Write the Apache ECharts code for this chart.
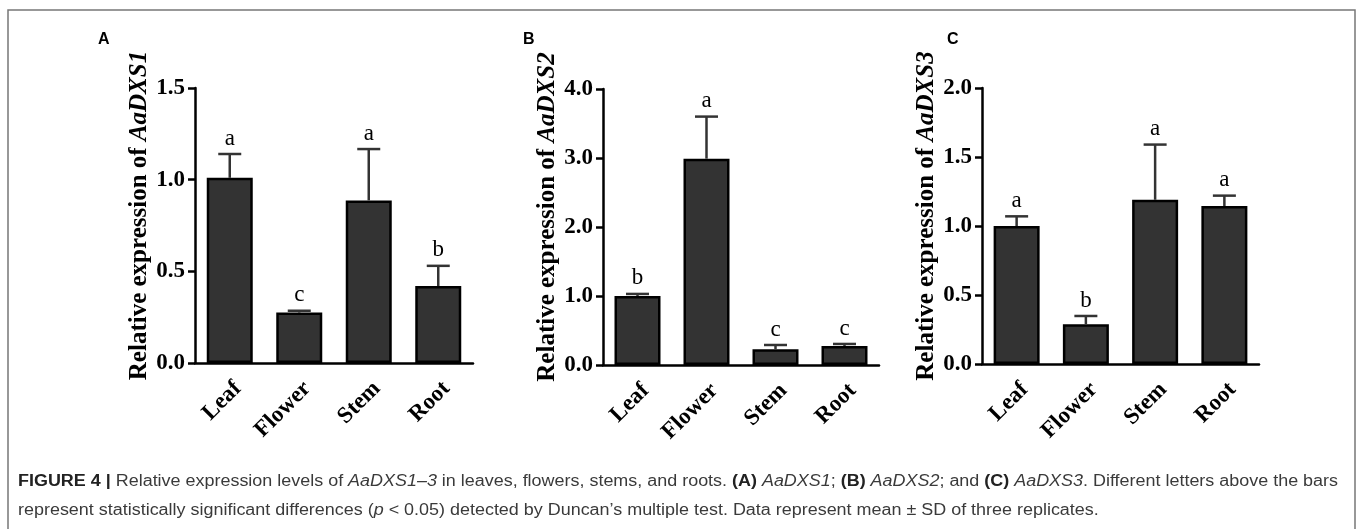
<!DOCTYPE html>
<html><head><meta charset="utf-8">
<script src="https://cdn.jsdelivr.net/npm/echarts@6/dist/echarts.min.js"></script>
<style>html,body{margin:0;padding:0;background:#fff}#c{width:1357px;height:529px}</style>
</head><body><div id="c"></div>
<script>
const categories = ['Leaf', 'Flower', 'Stem', 'Root'];
const meanA = [1.01, 0.275, 0.887, 0.42];
const sdA = [0.13, 0.01, 0.28, 0.11];
const lettersA = ['a', 'c', 'a', 'b'];
const meanB = [1.00, 2.99, 0.23, 0.275];
const sdB = [0.03, 0.61, 0.06, 0.03];
const lettersB = ['b', 'a', 'c', 'c'];
const meanC = [1.00, 0.288, 1.19, 1.145];
const sdC = [0.07, 0.06, 0.40, 0.075];
const lettersC = ['a', 'b', 'a', 'a'];
const genes = ['AaDXS1', 'AaDXS2', 'AaDXS3'];
const panelLabels = ['A', 'B', 'C'];
const yMax = [1.5, 4.0, 2.0];
const yInterval = [0.5, 1.0, 0.5];
const captionLine1 = '{b|FIGURE 4 |} Relative expression levels of {i|AaDXS1–3} in leaves, flowers, stems, and roots. {b|(A)} {i|AaDXS1}; {b|(B)} {i|AaDXS2}; and {b|(C)} {i|AaDXS3}. Different letters above the bars';
const captionLine2 = 'represent statistically significant differences ({i|p} < 0.05) detected by Duncan’s multiple test. Data represent mean ± SD of three replicates.';

const means = [meanA, meanB, meanC];
const sds = [sdA, sdB, sdC];
const letters = [lettersA, lettersB, lettersC];

const SERIF = '"Liberation Serif", "Times New Roman", serif';
const grids = [
  {left: 195, top: 88, width: 278, height: 275},
  {left: 603, top: 89, width: 276, height: 276},
  {left: 982, top: 88, width: 277, height: 276}
];
const panelPos = [[98, 32], [523, 32], [947, 32]];

const chart = echarts.init(document.getElementById('c'), null, {renderer: 'canvas'});

const xAxes = [], yAxes = [], series = [], graphics = [];
for (let p = 0; p < 3; p++) {
  xAxes.push({
    type: 'category', gridIndex: p, data: categories,
    axisLine: {lineStyle: {color: '#000', width: 2.5}},
    axisTick: {alignWithLabel: true, length: 7, lineStyle: {color: '#000', width: 2.5}},
    axisLabel: {rotate: 45, margin: 14, verticalAlign: 'top', color: '#000', fontFamily: SERIF, fontWeight: 'bold', fontSize: 23}
  });
  yAxes.push({
    type: 'value', gridIndex: p, min: 0, max: yMax[p], interval: yInterval[p],
    axisLine: {show: true, lineStyle: {color: '#000', width: 2.5}},
    axisTick: {show: true, length: 7, lineStyle: {color: '#000', width: 2.5}},
    splitLine: {show: false},
    axisLabel: {margin: 10, color: '#000', fontFamily: SERIF, fontWeight: 'bold', fontSize: 23,
      formatter: v => v.toFixed(1)},
    name: 'Relative expression of {i|' + genes[p] + '}',
    nameLocation: 'middle', nameGap: 35,
    nameTextStyle: {color: '#000', fontFamily: SERIF, fontWeight: 'bold', fontSize: 25,
      padding: [0, 0, 0, 20],
      rich: {i: {color: '#000', fontFamily: SERIF, fontWeight: 'bold', fontStyle: 'italic', fontSize: 25}}}
  });
  series.push({
    type: 'bar', xAxisIndex: p, yAxisIndex: p, data: means[p], barWidth: 46,
    itemStyle: {color: '#333333', borderColor: '#000', borderWidth: 2.5}
  });
  const lt = letters[p];
  series.push({
    type: 'custom', xAxisIndex: p, yAxisIndex: p, z: 5,
    data: means[p].map((m, i) => [i, m, m + sds[p][i]]),
    renderItem: function (params, api) {
      const b = api.coord([api.value(0), api.value(1)]);
      const t = api.coord([api.value(0), api.value(2)]);
      const hw = 11.5;
      return {type: 'group', children: [
        {type: 'line', shape: {x1: b[0], y1: b[1], x2: t[0], y2: t[1]}, style: {stroke: '#333', lineWidth: 2.5}},
        {type: 'line', shape: {x1: t[0] - hw, y1: t[1], x2: t[0] + hw, y2: t[1]}, style: {stroke: '#333', lineWidth: 2.5}},
        {type: 'text', style: {text: lt[params.dataIndex], x: t[0], y: t[1] - 4, align: 'center', verticalAlign: 'bottom',
          fontFamily: 'Liberation Serif', fontSize: 23, fill: '#000'}}
      ]};
    }
  });
  graphics.push({type: 'text', x: panelPos[p][0], y: panelPos[p][1],
    style: {text: panelLabels[p], fontFamily: '"Liberation Sans", Arial, sans-serif', fontWeight: 'bold', fontSize: 16, fill: '#000'}});
}

graphics.push({type: 'rect', shape: {x: 8, y: 10, width: 1347, height: 600},
  style: {fill: 'none', stroke: '#777', lineWidth: 1.5}, silent: true});

// caption: fit line 1 to the reference width
const CAP = '"Liberation Sans", Arial, sans-serif';
const CAP_SIZE = 16;
function measureRich(line) {
  const ctx = document.createElement('canvas').getContext('2d');
  const re = /\{(\w+)\|([^}]*)\}|([^{]+)/g;
  let w = 0, m;
  while ((m = re.exec(line))) {
    const st = m[1];
    const txt = st ? m[2] : m[3];
    ctx.font = (st === 'i' ? 'italic ' : '') + (st === 'b' ? 'bold ' : '') + CAP_SIZE + 'px ' + CAP;
    w += ctx.measureText(txt).width;
  }
  return w;
}
const capScale = 1320 / measureRich(captionLine1);
graphics.push({type: 'text', x: 18, y: 467, scaleX: capScale,
  style: {
    text: captionLine1 + '\n' + captionLine2,
    fontFamily: CAP, fontSize: CAP_SIZE, fill: '#3a3a3a', lineHeight: 29,
    rich: {
      b: {fontFamily: CAP, fontSize: CAP_SIZE, fontWeight: 'bold', fill: '#222', lineHeight: 29},
      i: {fontFamily: CAP, fontSize: CAP_SIZE, fontStyle: 'italic', fill: '#3a3a3a', lineHeight: 29}
    }
  }});

chart.setOption({
  animation: false,
  backgroundColor: '#fff',
  grid: grids,
  xAxis: xAxes,
  yAxis: yAxes,
  series: series,
  graphic: graphics
});
</script></body></html>
